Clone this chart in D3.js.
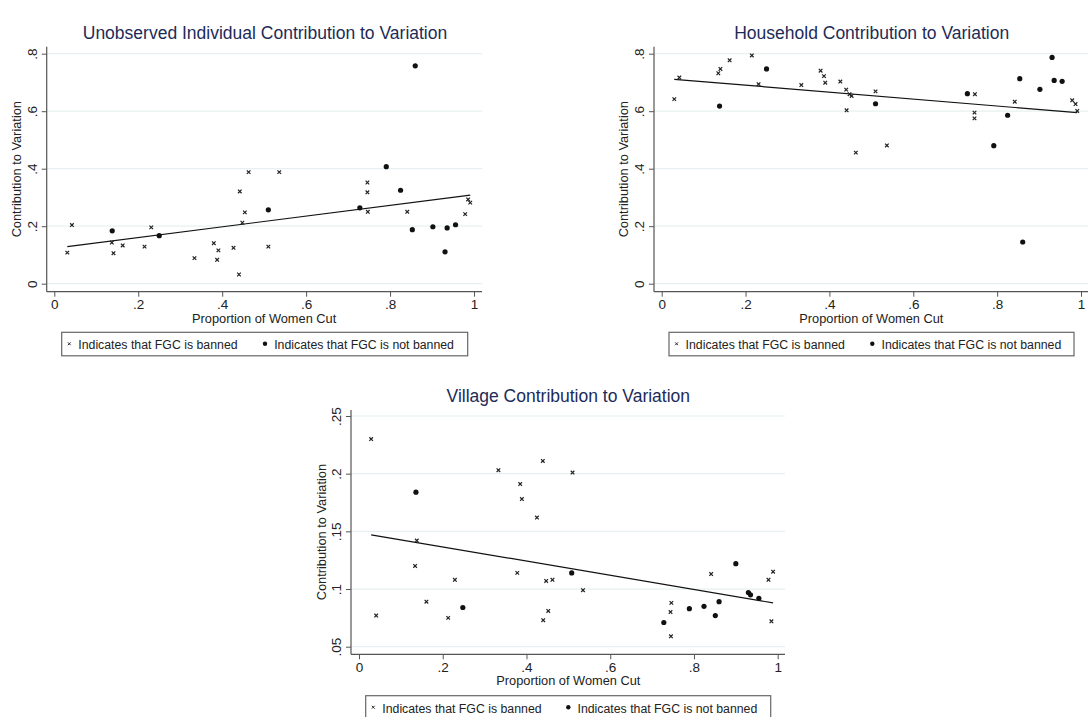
<!DOCTYPE html>
<html>
<head>
<meta charset="utf-8">
<script src="https://cdn.jsdelivr.net/npm/d3@7"></script>
<style>
  body { margin: 0; background: #fff; }
  svg text { font-family: "Liberation Sans", Arial, sans-serif; fill: #222; }
</style>
</head>
<body>
<svg id="chart" width="1091" height="717"></svg>
<script>
// x = proportion of women cut, y = contribution to variation
// "banned" = FGC is banned (small x), "notBanned" = FGC not banned (dot)

const indivBanned = [
  [0.031, 0.108], [0.042, 0.204], [0.137, 0.143], [0.141, 0.106], [0.163, 0.133],
  [0.215, 0.129], [0.231, 0.196], [0.334, 0.089], [0.380, 0.141], [0.391, 0.116],
  [0.388, 0.083], [0.427, 0.125], [0.440, 0.032], [0.442, 0.321], [0.448, 0.212],
  [0.454, 0.248], [0.463, 0.388], [0.510, 0.129], [0.536, 0.388], [0.746, 0.352],
  [0.746, 0.318], [0.747, 0.250], [0.841, 0.250], [0.979, 0.242], [0.986, 0.293],
  [0.991, 0.282]
];
const indivNotBanned = [
  [0.138, 0.184], [0.250, 0.167], [0.510, 0.257], [0.728, 0.264], [0.791, 0.407],
  [0.825, 0.325], [0.860, 0.758], [0.853, 0.188], [0.902, 0.198], [0.936, 0.194],
  [0.931, 0.111], [0.956, 0.205]
];
const indivFit = [[0.031, 0.129], [0.991, 0.308]];

const hhBanned = [
  [0.030, 0.642], [0.042, 0.717], [0.135, 0.732], [0.140, 0.747], [0.162, 0.777],
  [0.215, 0.794], [0.231, 0.694], [0.333, 0.691], [0.379, 0.741], [0.387, 0.722],
  [0.390, 0.699], [0.426, 0.703], [0.440, 0.675], [0.441, 0.603], [0.448, 0.659],
  [0.453, 0.653], [0.463, 0.456], [0.510, 0.669], [0.537, 0.481], [0.747, 0.659],
  [0.746, 0.595], [0.746, 0.575], [0.842, 0.633], [0.979, 0.638], [0.987, 0.625],
  [0.991, 0.601]
];
const hhNotBanned = [
  [0.138, 0.618], [0.250, 0.747], [0.510, 0.626], [0.729, 0.661], [0.792, 0.480],
  [0.825, 0.586], [0.854, 0.713], [0.861, 0.145], [0.902, 0.676], [0.931, 0.787],
  [0.936, 0.707], [0.955, 0.704]
];
const hhFit = [[0.030, 0.711], [0.991, 0.595]];

const villBanned = [
  [0.029, 0.230], [0.041, 0.077], [0.134, 0.120], [0.138, 0.142], [0.161, 0.089],
  [0.213, 0.075], [0.229, 0.108], [0.333, 0.203], [0.378, 0.114], [0.385, 0.191],
  [0.389, 0.178], [0.425, 0.162], [0.439, 0.211], [0.440, 0.073], [0.447, 0.107],
  [0.452, 0.081], [0.462, 0.108], [0.510, 0.201], [0.535, 0.099], [0.746, 0.088],
  [0.744, 0.080], [0.745, 0.059], [0.841, 0.113], [0.978, 0.108], [0.989, 0.115],
  [0.985, 0.072]
];
const villNotBanned = [
  [0.136, 0.184], [0.248, 0.084], [0.508, 0.114], [0.728, 0.071], [0.789, 0.083],
  [0.824, 0.085], [0.851, 0.077], [0.860, 0.089], [0.900, 0.122], [0.930, 0.097],
  [0.935, 0.095], [0.955, 0.092]
];
const villFit = [[0.029, 0.147], [0.989, 0.088]];

const xTicks = [0, 0.2, 0.4, 0.6, 0.8, 1];
const yTicksShare = [0, 0.2, 0.4, 0.6, 0.8];
const yTicksVillage = [0.05, 0.1, 0.15, 0.2, 0.25];

const titles = [
  "Unobserved Individual Contribution to Variation",
  "Household Contribution to Variation",
  "Village Contribution to Variation"
];
const xTitle = "Proportion of Women Cut";
const yTitle = "Contribution to Variation";
const legendLabels = ["Indicates that FGC is banned", "Indicates that FGC is not banned"];

const svg = d3.select("#chart");
const fmt = d => (d === 0 || d === 1) ? String(d) : String(+d.toFixed(2)).replace(/^0/, "");

function drawPanel(p) {
  const x = d3.scaleLinear().domain([0, 1]).range(p.xr);
  const y = d3.scaleLinear().domain(p.yd).range(p.yr);
  const g = svg.append("g");

  // grid lines
  g.selectAll(".grid").data(p.yTicks).enter().append("line")
    .attr("x1", p.left).attr("x2", p.right)
    .attr("y1", d => y(d)).attr("y2", d => y(d))
    .attr("stroke", "#e6f0f1").attr("stroke-width", 1.2);

  // x axis
  const xa = g.append("g").attr("transform", `translate(0,${p.bottom})`)
    .call(d3.axisBottom(x).tickValues(xTicks).tickFormat(fmt).tickSize(5).tickSizeOuter(0));
  xa.select(".domain").remove();
  xa.selectAll("line").attr("stroke", "#555");
  xa.selectAll("text").attr("y", 8).attr("font-size", 13.5).style("fill", "#222");
  g.append("line").attr("x1", p.left).attr("x2", p.right)
    .attr("y1", p.bottom).attr("y2", p.bottom).attr("stroke", "#555").attr("stroke-width", 1.2);

  // y axis
  const ya = g.append("g").attr("transform", `translate(${p.left},0)`)
    .call(d3.axisLeft(y).tickValues(p.yTicks).tickFormat(fmt).tickSize(5).tickSizeOuter(0));
  ya.select(".domain").remove();
  ya.selectAll("line").attr("stroke", "#555");
  ya.selectAll("text")
    .attr("x", null).attr("dy", null)
    .attr("text-anchor", "middle")
    .attr("transform", "translate(-10,0) rotate(-90)")
    .attr("font-size", 13.5).style("fill", "#222");
  g.append("line").attr("x1", p.left).attr("x2", p.left)
    .attr("y1", p.top).attr("y2", p.bottom).attr("stroke", "#555").attr("stroke-width", 1.2);

  // titles
  g.append("text").attr("x", p.titleX).attr("y", p.titleY)
    .attr("text-anchor", "middle").attr("font-size", 17.5).style("fill", "#1d2b58")
    .text(p.title);
  g.append("text").attr("x", (p.xr[0] + p.xr[1]) / 2).attr("y", p.bottom + 31)
    .attr("text-anchor", "middle").attr("font-size", 12.8).text(xTitle);
  g.append("text")
    .attr("transform", `translate(${p.yTitleX},${(p.top + p.bottom) / 2}) rotate(-90)`)
    .attr("text-anchor", "middle").attr("font-size", 12.8).text(yTitle);

  // fitted line
  g.append("path").datum(p.fit)
    .attr("d", d3.line().x(d => x(d[0])).y(d => y(d[1])))
    .attr("fill", "none").attr("stroke", "#111").attr("stroke-width", 1.2);

  // markers
  const cross = "M-1.8,-1.8L1.8,1.8M-1.8,1.8L1.8,-1.8";
  g.selectAll(".ban").data(p.banned).enter().append("path")
    .attr("transform", d => `translate(${x(d[0])},${y(d[1])})`)
    .attr("d", cross).attr("stroke", "#222").attr("stroke-width", 1.2).attr("fill", "none");
  g.selectAll(".nob").data(p.notBanned).enter().append("circle")
    .attr("cx", d => x(d[0])).attr("cy", d => y(d[1])).attr("r", 2.6).attr("fill", "#111");

  // legend
  const L = p.legend;
  g.append("rect").attr("x", L.x).attr("y", L.y).attr("width", L.w).attr("height", 23.5)
    .attr("fill", "#fff").attr("stroke", "#666").attr("stroke-width", 1.2);
  const cy = L.y + 12.5;
  g.append("path").attr("transform", `translate(${L.x + 7.6},${cy - 1})`)
    .attr("d", "M-1.4,-1.4L1.4,1.4M-1.4,1.4L1.4,-1.4").attr("stroke", "#222").attr("stroke-width", 1);
  g.append("text").attr("x", L.x + 16.6).attr("y", cy + 4.3).attr("font-size", 12.3).text(legendLabels[0]);
  g.append("circle").attr("cx", L.dotX).attr("cy", cy - 1).attr("r", 2.2).attr("fill", "#111");
  g.append("text").attr("x", L.dotX + 9.2).attr("y", cy + 4.3).attr("font-size", 12.3).text(legendLabels[1]);
}

drawPanel({
  title: titles[0], titleX: 265, titleY: 38.8,
  xr: [54.3, 474], yd: [0, 0.8], yr: [283.7, 53.7], yTicks: yTicksShare,
  left: 46.7, right: 482, top: 46.7, bottom: 291.7, yTitleX: 21,
  banned: indivBanned, notBanned: indivNotBanned, fit: indivFit,
  legend: { x: 61.7, y: 332.3, w: 406, dotX: 265 }
});
drawPanel({
  title: titles[1], titleX: 871.7, titleY: 38.8,
  xr: [661.7, 1081], yd: [0, 0.8], yr: [283.7, 53.7], yTicks: yTicksShare,
  left: 654, right: 1088, top: 46.7, bottom: 291.7, yTitleX: 627.5,
  banned: hhBanned, notBanned: hhNotBanned, fit: hhFit,
  legend: { x: 669, y: 332.3, w: 405, dotX: 872.3 }
});
drawPanel({
  title: titles[2], titleX: 568.3, titleY: 401.8,
  xr: [359, 777.7], yd: [0.05, 0.25], yr: [646.7, 416], yTicks: yTicksVillage,
  left: 351, right: 785, top: 410, bottom: 654.3, yTitleX: 325.5,
  banned: villBanned, notBanned: villNotBanned, fit: villFit,
  legend: { x: 365.7, y: 695.7, w: 405, dotX: 568.3 }
});
</script>
</body>
</html>
